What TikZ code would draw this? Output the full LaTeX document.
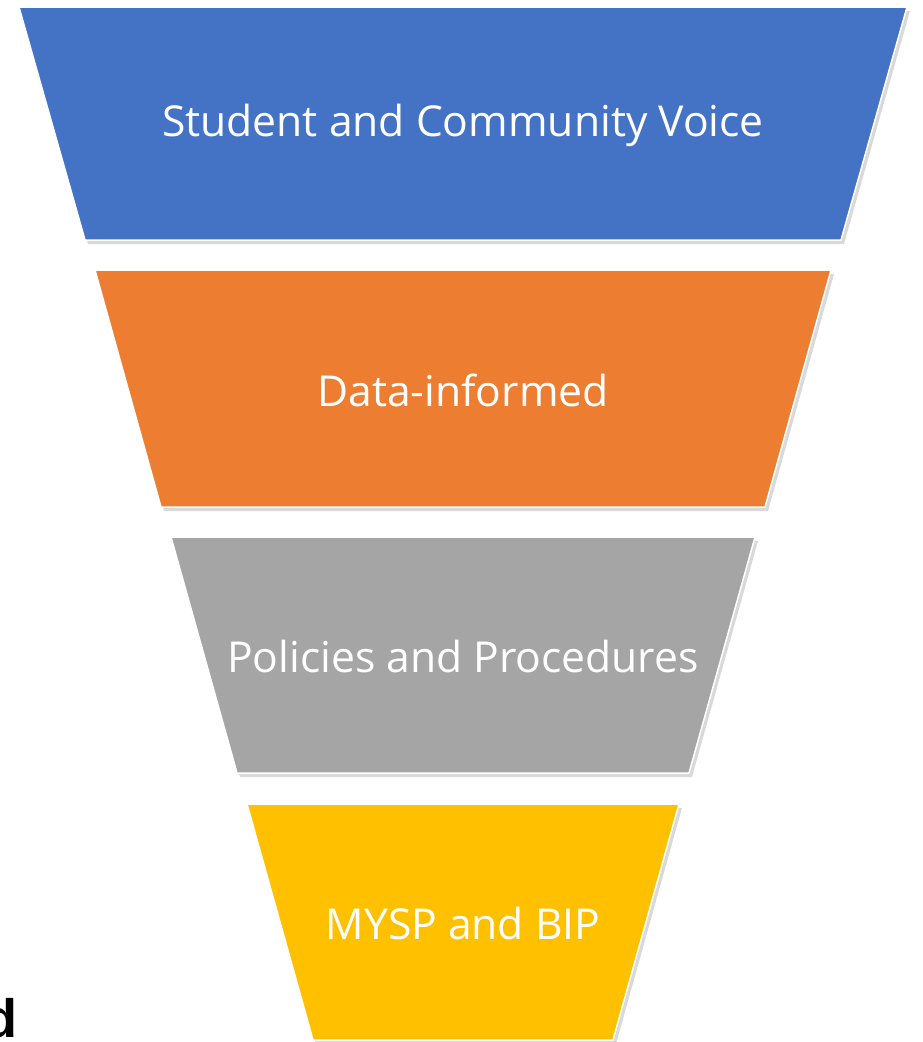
\documentclass[tikz,border=0pt]{standalone}
\usepackage{fontspec}
\setmainfont{Open Sans}
\newfontfamily\boldsans{Liberation Sans}
\usepackage{tikz}
\usetikzlibrary{shadows}

\definecolor{fblue}{HTML}{4472C4}
\definecolor{forange}{HTML}{ED7D31}
\definecolor{fgray}{HTML}{A5A5A5}
\definecolor{fgold}{HTML}{FFC000}

\tikzset{
  level/.style={draw=white,line width=1.5pt,line join=miter,
    drop shadow={shadow xshift=3pt,shadow yshift=-4pt,opacity=0.15,fill=black}},
  levellabel/.style={text=white,font=\fontsize{42.6}{48}\selectfont,inner sep=0pt,yshift=-2pt}
}

\begin{document}
\begin{tikzpicture}[x=1pt,y=-1pt]
\useasboundingbox[fill=white] (0,0) rectangle (922,1042);
\foreach \t/\b/\l/\c/\txt [count=\n] in {7/240/19/fblue/Student and Community Voice,
                                   270/507/95/forange/Data-informed,
                                   537/773/171/fgray/Policies and Procedures,
                                   804/1040/247/fgold/MYSP and BIP}
  {
  \path[level,fill=\c] (\l,\t) -- (926-\l,\t) -- (860-\l,\b) -- (\l+66,\b) -- cycle;
  \node[levellabel] (N\n) at (463,{(\t+\b)/2}) {\txt};
  }
\node[anchor=base east,inner sep=0pt,font=\boldsans\bfseries\fontsize{54}{60}\selectfont] (cut) at (18,1037) {d};
\end{tikzpicture}
\end{document}
